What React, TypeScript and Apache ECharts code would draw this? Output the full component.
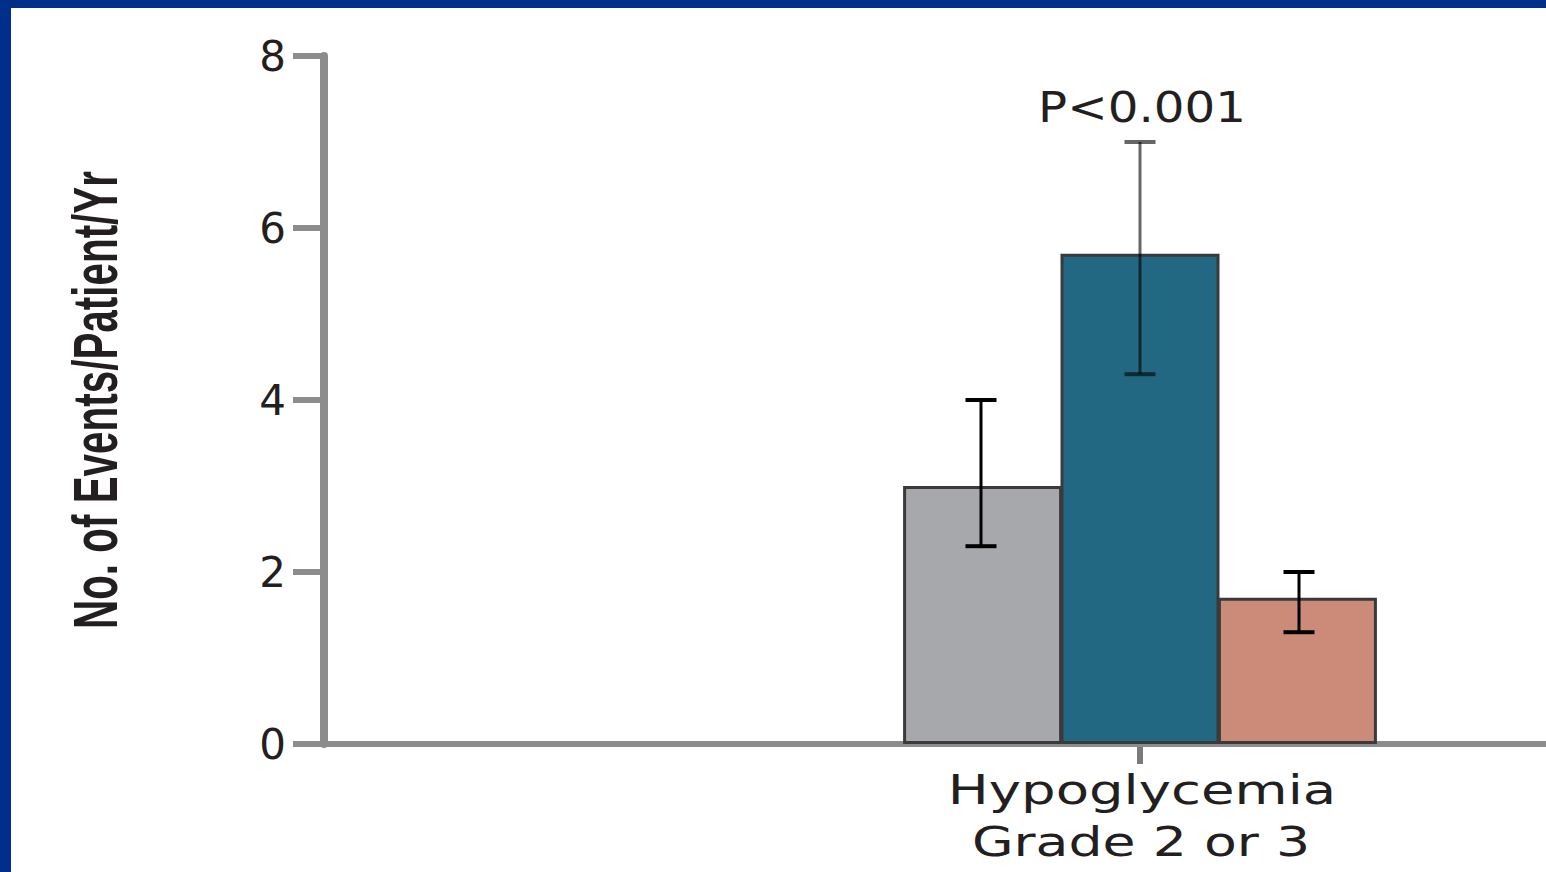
import React, { useEffect, useRef } from "react";
import * as echarts from "echarts";

// ---- data ----
const categories = ["", "Hypoglycemia\nGrade 2 or 3"];
const seriesNames = ["Group A", "Group B", "Group C"];
const barValues = [3.0, 5.7, 1.7];
const errLow = [2.3, 4.3, 1.3];
const errHigh = [4.0, 7.0, 2.0];
const yTicks = [0, 2, 4, 6, 8];
const pValueText = "P<0.001";
const yAxisTitle = "No. of Events/Patient/Yr";
const catLine1 = "Hypoglycemia";
const catLine2 = "Grade 2 or 3";

// ---- styles ----
const BAR_COLORS = ["#a7a8ac", "#236882", "#cc8b79"];
const ERR_OPACITY = [1, 0.6, 1];
const BAR_W = 159;
const CAT_INDEX = 1;
const TEXT_COLOR = "#231f20";
const AXIS_COLOR = "#8c8c8c";
const FRAME_BLUE = "#002f8a";
const GRID_LEFT = 324;
const CAT_CENTER = 1140;

export default function App() {
  const ref = useRef<HTMLDivElement>(null);

  useEffect(() => {
    const chart = echarts.init(ref.current!, null, { renderer: "svg" });
    const W = 1546;
    const catW = (CAT_CENTER - GRID_LEFT) / 1.5;
    const gridRight = W - GRID_LEFT - 2 * catW;

    const barSeries = seriesNames.map((name, i) => ({
      name,
      type: "bar",
      barWidth: BAR_W,
      barGap: "-1%",
      z: 2,
      data: categories.map((_, ci) => (ci === CAT_INDEX ? barValues[i] : "-")),
      itemStyle: { color: BAR_COLORS[i], borderColor: "#3a3a3a", borderWidth: 3 },
    }));

    const errData = seriesNames.map((_, i) => [CAT_INDEX, errLow[i], errHigh[i], i]);

    const errorSeries = {
      type: "custom",
      name: "error",
      z: 5,
      encode: { x: 0, y: [1, 2] },
      data: errData,
      renderItem: (params: any, api: any) => {
        const ci = api.value(0);
        const lo = api.value(1);
        const hi = api.value(2);
        const bi = api.value(3);
        const pLo = api.coord([ci, lo]);
        const pHi = api.coord([ci, hi]);
        const x = pLo[0] + (bi - 1) * BAR_W;
        const cap = 15.5;
        const op = ERR_OPACITY[bi];
        return {
          type: "group",
          children: [
            { type: "line", shape: { x1: x, y1: pHi[1], x2: x, y2: pLo[1] }, style: { stroke: "#000", lineWidth: 3, opacity: op } },
            { type: "line", shape: { x1: x - cap, y1: pHi[1], x2: x + cap, y2: pHi[1] }, style: { stroke: "#000", lineWidth: 4, opacity: op } },
            { type: "line", shape: { x1: x - cap, y1: pLo[1], x2: x + cap, y2: pLo[1] }, style: { stroke: "#000", lineWidth: 4, opacity: op } },
          ],
        };
      },
    };

    chart.setOption({
      animation: false,
      backgroundColor: "#ffffff",
      grid: { left: GRID_LEFT, top: 56, right: gridRight, bottom: 128 },
      xAxis: {
        type: "category",
        data: categories,
        boundaryGap: true,
        axisLine: { lineStyle: { color: AXIS_COLOR, width: 6 } },
        axisTick: { show: false },
        axisLabel: { show: false },
        splitLine: { show: false },
      },
      yAxis: {
        type: "value",
        min: yTicks[0],
        max: yTicks[yTicks.length - 1],
        interval: yTicks[1] - yTicks[0],
        axisLine: { show: true, lineStyle: { color: AXIS_COLOR, width: 8 } },
        axisTick: { show: true, length: 31, lineStyle: { color: AXIS_COLOR, width: 6 } },
        axisLabel: { margin: 38, fontSize: 42, fontFamily: "DejaVu Sans", color: TEXT_COLOR },
        splitLine: { show: false },
      },
      series: [...barSeries, errorSeries],
    });

    const [cx, yTop] = chart.convertToPixel({ xAxisIndex: 0, yAxisIndex: 0 }, [CAT_INDEX, errHigh[1]]) as number[];
    const [, y0] = chart.convertToPixel({ xAxisIndex: 0, yAxisIndex: 0 }, [CAT_INDEX, 0]) as number[];
    const axisEnd = W - gridRight;
    const yAx = Math.round(y0);

    chart.setOption({
      graphic: [
        {
          type: "line",
          shape: { x1: axisEnd - 1, y1: yAx, x2: W, y2: yAx },
          style: { stroke: AXIS_COLOR, lineWidth: 6 },
        },
        {
          type: "line",
          z: -1,
          shape: { x1: cx, y1: yAx, x2: cx, y2: yAx + 20 },
          style: { stroke: "#7a7a7a", lineWidth: 6 },
        },
        {
          type: "text",
          x: 95.5,
          y: 400,
          rotation: Math.PI / 2,
          scaleX: 0.94,
          scaleY: 1.46,
          style: {
            text: yAxisTitle,
            fontSize: 43,
            fontWeight: "bold",
            fontFamily: "Liberation Sans",
            fill: TEXT_COLOR,
            align: "center",
            verticalAlign: "middle",
          },
        },
        {
          type: "text",
          x: cx + 2,
          y: yTop - 34,
          scaleX: 1.15,
          style: {
            text: pValueText,
            fontSize: 42,
            fontFamily: "DejaVu Sans",
            fill: TEXT_COLOR,
            align: "center",
            verticalAlign: "middle",
          },
        },
        {
          type: "text",
          x: cx + 2,
          y: y0 + 46,
          scaleX: 1.33,
          style: {
            text: catLine1,
            fontSize: 41,
            fontFamily: "DejaVu Sans",
            fill: TEXT_COLOR,
            align: "center",
            verticalAlign: "middle",
          },
        },
        {
          type: "text",
          x: cx + 1,
          y: y0 + 98,
          scaleX: 1.31,
          style: {
            text: catLine2,
            fontSize: 41,
            fontFamily: "DejaVu Sans",
            fill: TEXT_COLOR,
            align: "center",
            verticalAlign: "middle",
          },
        },
        { type: "rect", z: 100, shape: { x: 0, y: 0, width: 11, height: 872 }, style: { fill: FRAME_BLUE } },
        { type: "rect", z: 100, shape: { x: 0, y: 0, width: 1546, height: 8 }, style: { fill: FRAME_BLUE } },
      ],
    });

    return () => chart.dispose();
  }, []);

  return (
    <div
      ref={ref}
      style={{ position: "fixed", left: 0, top: 0, width: 1546, height: 872 }}
    />
  );
}
